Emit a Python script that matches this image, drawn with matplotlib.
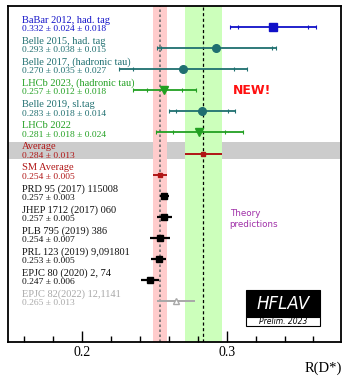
import numpy as np
import matplotlib
matplotlib.use("Agg")
import matplotlib.pyplot as plt
from matplotlib.patches import Rectangle

# measurements: label, value text, central value, stat err, syst err
exp_labels = ["BaBar 2012, had. tag", "Belle 2015, had. tag", "Belle 2017, (hadronic tau)",
              "LHCb 2023, (hadronic tau)", "Belle 2019, sl.tag", "LHCb 2022"]
exp_vals = [0.332, 0.293, 0.270, 0.257, 0.283, 0.281]
exp_stat = [0.024, 0.038, 0.035, 0.012, 0.018, 0.018]
exp_syst = [0.018, 0.015, 0.027, 0.018, 0.014, 0.024]

avg_val, avg_err = 0.284, 0.013
sm_val, sm_err = 0.254, 0.005

th_labels = ["PRD 95 (2017) 115008", "JHEP 1712 (2017) 060", "PLB 795 (2019) 386",
             "PRL 123 (2019) 9,091801", "EPJC 80 (2020) 2, 74", "EPJC 82(2022) 12,1141"]
th_vals = [0.257, 0.257, 0.254, 0.253, 0.247, 0.265]
th_errs = [0.003, 0.005, 0.007, 0.005, 0.006, 0.013]

blue = "#1010c8"
teal = "#1f6f70"
green = "#22a022"
red = "#b01515"
gray = "#a8a8a8"
exp_colors = [blue, teal, teal, green, teal, green]
exp_markers = ["s", "o", "o", "v", "o", "v"]

fig = plt.figure(figsize=(3.43, 3.77), dpi=100)
ax = fig.add_axes([8 / 343, 35 / 377, 333 / 343, 336 / 377])
ax.set_xlim(0.149, 0.379)
ax.set_ylim(14.94, -1.0)

serif = ["Liberation Serif", "DejaVu Serif"]

# bands
ax.axhspan(5.47, 6.27, color="#cccccc", lw=0, zorder=0)
ax.axvspan(sm_val - sm_err, sm_val + sm_err, color="#ffcccc", lw=0, zorder=1)
ax.axvspan(avg_val - avg_err, avg_val + avg_err, color="#ccffbb", lw=0, zorder=1)
ax.axvline(sm_val, color="#707070", ls=(0, (1.5, 1.5)), lw=1.2, zorder=2)
ax.axvline(avg_val, color="black", ls=(0, (2.5, 2)), lw=0.9, zorder=2)

def row_text(y, label, value, color):
    tr = ax.get_yaxis_transform()
    ax.text(0.043, y - 0.33, label, transform=tr, fontsize=7.5, family=serif,
            color=color, va="center", ha="left")
    ax.text(0.043, y + 0.1, value, transform=tr, fontsize=6.8, family=serif,
            color=color, va="center", ha="left")

# experiments
for i in range(len(exp_vals)):
    tot = np.hypot(exp_stat[i], exp_syst[i])
    c = exp_colors[i]
    ms = 5.5 if exp_markers[i] == "o" else 6
    ax.errorbar(exp_vals[i], i, xerr=tot, fmt=exp_markers[i], color=c, ms=ms,
                lw=1.3, capsize=1.5, capthick=0.8, zorder=4)
    ax.plot([exp_vals[i] - exp_stat[i], exp_vals[i] + exp_stat[i]], [i, i], "|",
            color=c, ms=3, mew=0.8, zorder=4)
    vtxt = "%.3f \u00b1 %.3f \u00b1 %.3f" % (exp_vals[i], exp_stat[i], exp_syst[i])
    row_text(i, exp_labels[i], vtxt, c)

# averages
ax.errorbar(avg_val, 6, xerr=avg_err, fmt="s", color=red, ms=3.5, lw=1.4, zorder=4)
row_text(6, "Average", "%.3f \u00b1 %.3f" % (avg_val, avg_err), red)
ax.errorbar(sm_val, 7, xerr=sm_err, fmt="s", color=red, ms=3.5, lw=1.4, zorder=4)
row_text(7, "SM Average", "%.3f \u00b1 %.3f" % (sm_val, sm_err), red)

# theory predictions
for j in range(len(th_vals)):
    y = 8 + j
    if j < len(th_vals) - 1:
        ax.errorbar(th_vals[j], y, xerr=th_errs[j], fmt="s", color="black", ms=5,
                    lw=1.6, zorder=4)
        col = "#111111"
    else:
        ax.errorbar(th_vals[j], y, xerr=th_errs[j], fmt="^", color=gray, mfc="white",
                    mec=gray, ms=5, lw=1.4, zorder=4)
        col = gray
    row_text(y, th_labels[j], "%.3f \u00b1 %.3f" % (th_vals[j], th_errs[j]), col)

ax.text(0.3045, 3.0, "NEW!", color="#ff1010", fontsize=9, fontweight="bold",
        family="DejaVu Sans", va="center", ha="left")
ax.text(0.302, 9.1, "Theory\npredictions", color="#a030a8", fontsize=6.3,
        family="DejaVu Sans", va="center", ha="left", linespacing=1.3)

# HFLAV logo
ax.add_patch(Rectangle((0.3135, 12.48), 0.051, 1.28, facecolor="black",
                       edgecolor="black", lw=0.8, zorder=6))
ax.add_patch(Rectangle((0.3135, 13.76), 0.051, 0.44, facecolor="white",
                       edgecolor="black", lw=0.8, zorder=6))
ax.text(0.339, 13.12, "HFLAV", color="white", fontsize=12, style="italic",
        family="DejaVu Sans", ha="center", va="center", zorder=7)
ax.text(0.339, 13.98, "Prelim. 2023", color="black", fontsize=5.5, style="italic",
        family="DejaVu Sans", ha="center", va="center", zorder=7)

# axes styling
ax.set_xticks([0.2, 0.3])
ax.set_xticklabels(["0.2", "0.3"], family=serif, fontsize=10)
ax.set_xticks(np.arange(0.16, 0.38, 0.02), minor=True)
ax.tick_params(axis="x", which="major", direction="in", length=8, width=1, pad=3)
ax.tick_params(axis="x", which="minor", direction="in", length=4, width=1)
ax.set_yticks([])
for s in ax.spines.values():
    s.set_linewidth(1.3)
    s.set_zorder(8)

fig.text(342 / 343, 9 / 377, "R(D*)", family=serif, fontsize=10.5,
         ha="right", va="center")

fig.savefig("out.png", dpi=100)
